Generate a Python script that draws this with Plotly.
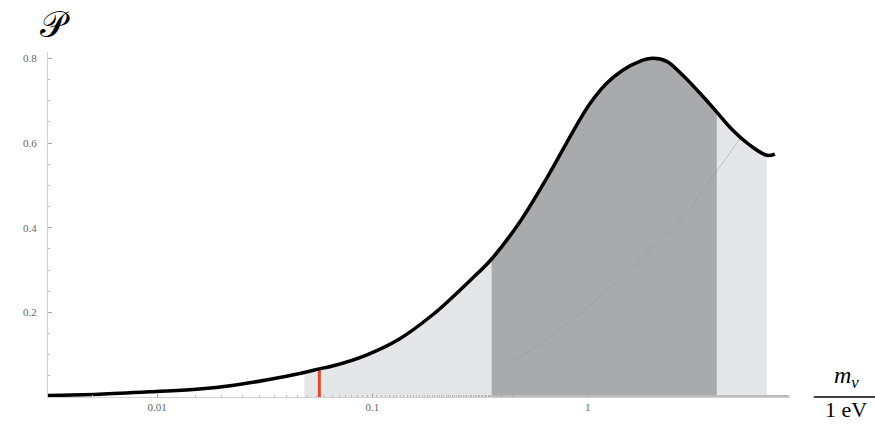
import numpy as np
import plotly.graph_objects as go

# Probability curve P(m_nu), mass in eV
mass = [0.00308, 0.00537, 0.00989, 0.0157, 0.0223, 0.0321, 0.0483, 0.0567, 0.0652,
        0.0938, 0.1335, 0.190, 0.228, 0.286, 0.358, 0.483, 0.666, 0.852, 1.022,
        1.226, 1.455, 1.746, 2.006, 2.33, 2.766, 3.319, 3.98, 4.725, 5.669, 6.8, 7.41]
prob = [0.0035, 0.0064, 0.013, 0.019, 0.0272, 0.0401, 0.058, 0.0665, 0.0732,
        0.0992, 0.137, 0.1937, 0.229, 0.2763, 0.326, 0.413, 0.529, 0.626, 0.692,
        0.741, 0.772, 0.793, 0.800, 0.793, 0.760, 0.718, 0.673, 0.630, 0.595, 0.571, 0.574]

# Faint secondary curve inside the shaded band
mass2 = [0.434, 0.666, 1.137, 1.942, 2.77, 3.81, 5.1]
prob2 = [0.08, 0.142, 0.236, 0.347, 0.425, 0.52, 0.61]

# Shaded intervals (eV) and the marked mass
outer_band = (0.0483, 6.8)
inner_band = (0.358, 3.98)
marker_mass = 0.0567

m = np.array(mass)
p = np.array(prob)

fig = go.Figure()

def band(lo, hi, color):
    sel = (m >= lo - 1e-9) & (m <= hi + 1e-9)
    fig.add_trace(go.Scatter(x=m[sel], y=p[sel], mode="lines",
                             line=dict(width=0, shape="spline", smoothing=1.0),
                             fill="tozeroy", fillcolor=color, hoverinfo="skip", showlegend=False))

band(*outer_band, "rgb(228,230,232)")
band(*inner_band, "rgb(168,170,171)")

fig.add_trace(go.Scatter(x=mass2, y=prob2, mode="lines",
                         line=dict(color="rgba(150,152,153,0.5)", width=1, shape="spline"),
                         showlegend=False, hoverinfo="skip"))

marker_p = prob[mass.index(marker_mass)]
fig.add_trace(go.Scatter(x=[marker_mass, marker_mass], y=[0, marker_p], mode="lines",
                         line=dict(color="rgb(232,70,40)", width=3), showlegend=False))

fig.add_trace(go.Scatter(x=mass, y=prob, mode="lines",
                         line=dict(color="black", width=3.5, shape="spline", smoothing=1.0),
                         showlegend=False))

tickfont = dict(family="Liberation Serif", size=11, color="#666")

fig.update_xaxes(type="log", range=[-2.507, 0.94], showgrid=False, zeroline=False,
                 showline=True, linecolor="#d0d0d0", linewidth=1,
                 tickvals=[0.01, 0.1, 1], ticktext=["0.01", "0.1", "1"],
                 ticks="inside", ticklen=4, tickcolor="#aaa", tickfont=tickfont,
                 minor=dict(ticks="inside", ticklen=2, tickcolor="#bbb", showgrid=False))
fig.update_yaxes(range=[0, 0.815], showgrid=False, zeroline=False,
                 showline=True, linecolor="#d0d0d0", linewidth=1,
                 tickvals=[0.2, 0.4, 0.6, 0.8], ticktext=["0.2", "0.4", "0.6", "0.8"],
                 ticks="inside", ticklen=4, tickcolor="#aaa", tickfont=tickfont,
                 ticklabelstandoff=8,
                 minor=dict(dtick=0.05, ticks="inside", ticklen=2, tickcolor="#bbb", showgrid=False))

fig.add_annotation(xref="paper", yref="paper", x=0.01, y=1.08, yanchor="middle", xanchor="center",
                   text="𝒫", showarrow=False,
                   font=dict(family="DejaVu Serif", size=36, color="black"))
fig.add_annotation(xref="paper", yref="paper", x=1.076, y=0.01, yanchor="bottom", xanchor="center",
                   text="<i>m</i><sub><i>ν</i></sub>", showarrow=False,
                   font=dict(family="Liberation Serif", size=24, color="black"))
fig.add_annotation(xref="paper", yref="paper", x=1.076, y=0.0, yanchor="top", xanchor="center",
                   text="1 eV", showarrow=False, yshift=2,
                   font=dict(family="Liberation Serif", size=22, color="black"))
fig.add_shape(type="line", xref="paper", yref="paper", x0=1.032, x1=1.12, y0=0.0, y1=0.0,
              line=dict(color="black", width=1.5))

fig.update_layout(width=875, height=424, margin=dict(l=48, r=85, t=52, b=27),
                  paper_bgcolor="white", plot_bgcolor="white")

fig.write_html("out.html")
